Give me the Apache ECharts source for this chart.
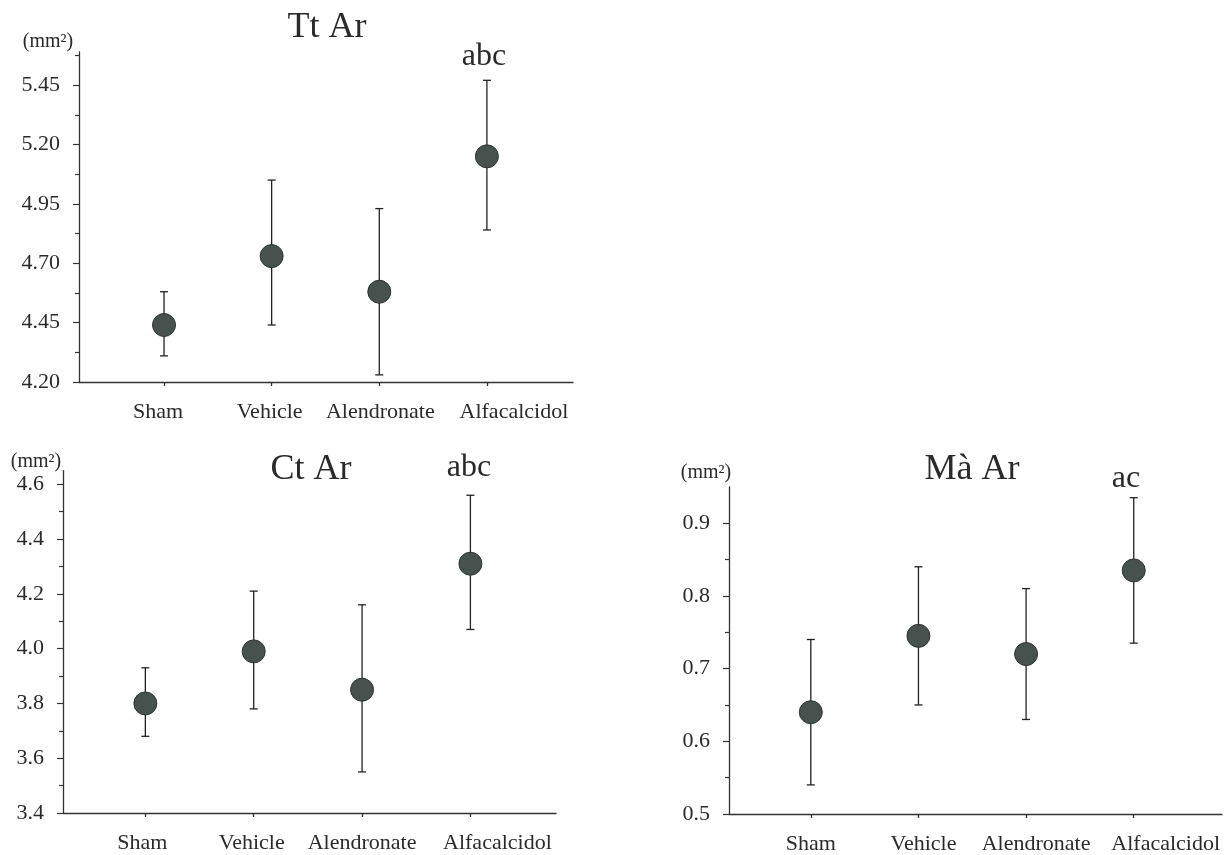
<!DOCTYPE html>
<html>
<head>
<meta charset="utf-8">
<script src="https://cdn.jsdelivr.net/npm/echarts@6/dist/echarts.min.js"></script>
<style>html,body{margin:0;padding:0;background:#fff;}#c{width:1230px;height:855px;}</style>
</head>
<body>
<div id="c"></div>
<script>
const categories = ['Sham', 'Vehicle', 'Alendronate', 'Alfacalcidol'];
const catPos = [1, 2, 3, 4];

const ttMean = [4.44, 4.73, 4.58, 5.15];
const ttLow  = [4.31, 4.44, 4.23, 4.84];
const ttHigh = [4.58, 5.05, 4.93, 5.47];
const ttTicks = [4.20, 4.45, 4.70, 4.95, 5.20, 5.45];
const ttMinor = [4.325, 4.575, 4.825, 5.075, 5.325, 5.575];

const ctMean = [3.80, 3.99, 3.85, 4.31];
const ctLow  = [3.68, 3.78, 3.55, 4.07];
const ctHigh = [3.93, 4.21, 4.16, 4.56];
const ctTicks = [3.4, 3.6, 3.8, 4.0, 4.2, 4.4, 4.6];
const ctMinor = [3.5, 3.7, 3.9, 4.1, 4.3, 4.5];

const maMean = [0.64, 0.745, 0.72, 0.835];
const maLow  = [0.54, 0.65, 0.63, 0.735];
const maHigh = [0.74, 0.84, 0.81, 0.935];
const maTicks = [0.5, 0.6, 0.7, 0.8, 0.9];
const maMinor = [0.55, 0.65, 0.75, 0.85];

const FONT = '"Liberation Serif", "Times New Roman", serif';
const INK = '#2a2a2a';

const panels = [
  {grid: {left: 79, top: 51.8, width: 494, height: 330.2}, x: [0.21, 4.8], y: [4.20, 5.59], mean: ttMean, low: ttLow, high: ttHigh, ticks: ttTicks, minor: ttMinor, dec: 2, shift: [-6, -2, 1, 27]},
  {grid: {left: 63, top: 470.6, width: 493, height: 342.4}, x: [0.24, 4.79], y: [3.4, 4.65], mean: ctMean, low: ctLow, high: ctHigh, ticks: ctTicks, minor: ctMinor, dec: 1, shift: [-3, -2, 0, 27]},
  {grid: {left: 729, top: 486.8, width: 493, height: 328.2}, x: [0.24, 4.82], y: [0.5, 0.95], mean: maMean, low: maLow, high: maHigh, ticks: maTicks, minor: maMinor, dec: 1, shift: [0, 5, 10, 32]}
];

const grids = [], xAxes = [], yAxes = [], series = [];
panels.forEach((p, i) => {
  grids.push(p.grid);
  const rich = {};
  p.shift.forEach((s, k) => {
    rich['c' + k] = {fontFamily: FONT, fontSize: 22, color: INK,
      padding: s >= 0 ? [0, 0, 0, 2 * s] : [0, -2 * s, 0, 0]};
  });
  xAxes.push({
    type: 'value', gridIndex: i, min: p.x[0], max: p.x[1],
    axisLine: {show: true, lineStyle: {color: '#333', width: 1.3}},
    axisTick: {show: true, length: 4, customValues: catPos, lineStyle: {color: '#333', width: 1.3}},
    axisLabel: {show: true, customValues: catPos, margin: 19, color: INK, fontFamily: FONT, fontSize: 22, rich: rich,
      formatter: v => {
        const k = Math.round(v) - 1;
        return categories[k] ? '{c' + k + '|' + categories[k] + '}' : '';
      }},
    splitLine: {show: false}
  });
  yAxes.push({
    type: 'value', gridIndex: i, min: p.y[0], max: p.y[1], position: 'left',
    axisLine: {show: true, lineStyle: {color: '#333', width: 1.3}},
    axisTick: {show: true, length: 6, customValues: p.ticks, lineStyle: {color: '#333', width: 1.2}},
    axisLabel: {show: true, customValues: p.ticks, margin: 19, color: INK, fontFamily: FONT, fontSize: 22,
      formatter: v => Number(v).toFixed(p.dec)},
    splitLine: {show: false}
  });
  yAxes.push({
    type: 'value', gridIndex: i, min: p.y[0], max: p.y[1], position: 'left', offset: 0,
    axisLine: {show: false},
    axisTick: {show: true, length: 4, customValues: p.minor, lineStyle: {color: '#333', width: 1.2}},
    axisLabel: {show: false},
    splitLine: {show: false}
  });
  series.push({
    type: 'custom', xAxisIndex: i, yAxisIndex: 2 * i,
    data: catPos.map((c, k) => [c, p.low[k], p.high[k]]),
    renderItem: (params, api) => {
      const lo = api.coord([api.value(0), api.value(1)]);
      const hi = api.coord([api.value(0), api.value(2)]);
      const w = 4;
      const st = {stroke: '#222', lineWidth: 1.3};
      return {type: 'group', children: [
        {type: 'line', shape: {x1: lo[0], y1: lo[1], x2: hi[0], y2: hi[1]}, style: st},
        {type: 'line', shape: {x1: hi[0] - w, y1: hi[1], x2: hi[0] + w, y2: hi[1]}, style: st},
        {type: 'line', shape: {x1: lo[0] - w, y1: lo[1], x2: lo[0] + w, y2: lo[1]}, style: st}
      ]};
    },
    z: 2, silent: true
  });
  series.push({
    type: 'scatter', xAxisIndex: i, yAxisIndex: 2 * i,
    data: catPos.map((c, k) => [c, p.mean[k]]),
    symbol: 'circle', symbolSize: 23,
    itemStyle: {color: '#47514d', borderColor: '#2e3431', borderWidth: 1, opacity: 1},
    z: 3, silent: true
  });
});

function txt(text, x, y, size) {
  return {type: 'text', x: x, y: y, z: 10,
    style: {text: text, fill: INK, font: size + 'px ' + FONT, align: 'center', verticalAlign: 'middle',
      textAlign: 'center', textVerticalAlign: 'middle'}};
}

const chart = echarts.init(document.getElementById('c'), null, {renderer: 'canvas'});
chart.setOption({
  backgroundColor: '#fff',
  animation: false,
  grid: grids, xAxis: xAxes, yAxis: yAxes, series: series,
  graphic: [
    txt('(mm²)', 48, 42, 20),
    txt('Tt Ar', 327, 28, 36),
    txt('abc', 484, 57, 32),
    txt('(mm²)', 36, 462, 20),
    txt('Ct Ar', 311, 470, 36),
    txt('abc', 469, 468, 32),
    txt('(mm²)', 706, 473, 20),
    txt('Mà Ar', 972, 470, 36),
    txt('ac', 1126, 479, 32)
  ]
});
</script>
</body>
</html>
